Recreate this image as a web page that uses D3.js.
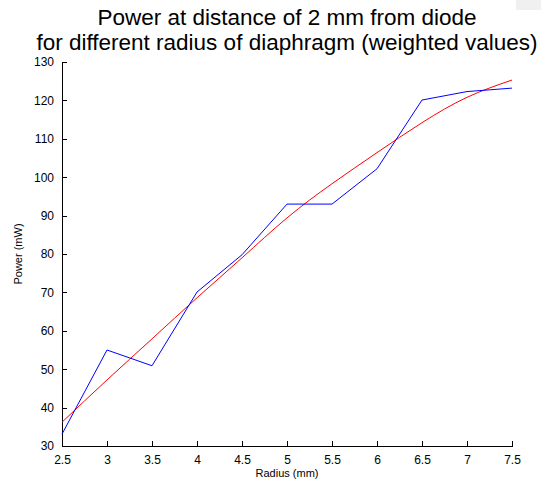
<!DOCTYPE html>
<html lang="en">
<head>
<meta charset="UTF-8">
<title>Power vs radius</title>
<script src="https://d3js.org/d3.v7.min.js"></script>
<style>
    body { margin: 0; background: #fff; }
    svg { font-family: "Liberation Sans", Arial, sans-serif; }
    .axis path, .axis line { stroke: #000; shape-rendering: crispEdges; }
    .axis text { font-size: 12px; fill: #000; }
</style>
</head>
<body>
<div id="chart"></div>
<script>
    // measured values (blue) and fitted curve (red)
    var radius = [2.5, 3, 3.5, 4, 4.5, 5, 5.5, 6, 6.5, 7, 7.5];
    var measured = [33.1, 55, 50.9, 70.1, 79.8, 93, 93, 102.2, 120.1, 122.3, 123.2];
    var fitted = [36.2, 47.2, 57.9, 68.6, 79, 89.4, 98.3, 106.4, 114.2, 120.8, 125.3];
    var xTicks = [2.5, 3, 3.5, 4, 4.5, 5, 5.5, 6, 6.5, 7, 7.5];
    var yTicks = [30, 40, 50, 60, 70, 80, 90, 100, 110, 120, 130];

    var W = 541, H = 486;
    var margin = {top: 62, right: 29, bottom: 40, left: 62};

    var svg = d3.select("#chart").append("svg")
        .attr("width", W)
        .attr("height", H);

    // small gray patch in the top right corner
    svg.append("rect").attr("x", 516).attr("y", 0).attr("width", 25).attr("height", 10).attr("fill", "#f0f0f0");

    var x = d3.scaleLinear().domain([2.5, 7.5]).range([margin.left, W - margin.right]);
    var y = d3.scaleLinear().domain([30, 130]).range([H - margin.bottom, margin.top]);

    svg.append("g")
        .attr("class", "axis")
        .attr("transform", "translate(0," + (H - margin.bottom) + ")")
        .call(d3.axisBottom(x).tickValues(xTicks).tickSize(-5).tickSizeOuter(0).tickPadding(9)
            .tickFormat(function(d){ return d; }));

    svg.append("g")
        .attr("class", "axis")
        .attr("transform", "translate(" + margin.left + ",0)")
        .call(d3.axisLeft(y).tickValues(yTicks).tickSize(-5).tickSizeOuter(0).tickPadding(8));

    var line = d3.line().x(function(d){ return x(d[0]); }).y(function(d){ return y(d[1]); });

    svg.append("path")
        .datum(radius.map(function(r, i){ return [r, fitted[i]]; }))
        .attr("fill", "none")
        .attr("stroke", "#ff0000")
        .attr("stroke-width", 1)
        .attr("d", line.curve(d3.curveNatural));

    svg.append("path")
        .datum(radius.map(function(r, i){ return [r, measured[i]]; }))
        .attr("fill", "none")
        .attr("stroke", "#0000ff")
        .attr("stroke-width", 1)
        .attr("d", line.curve(d3.curveLinear));

    // title
    var cx = (margin.left + W - margin.right) / 2;
    svg.append("text").attr("x", cx).attr("y", 25).attr("text-anchor", "middle")
        .attr("font-size", 22.5).text("Power at distance of 2 mm from diode");
    svg.append("text").attr("x", cx).attr("y", 50).attr("text-anchor", "middle")
        .attr("font-size", 22.5).text("for different radius of diaphragm (weighted values)");

    // axis labels
    svg.append("text").attr("x", cx).attr("y", 477).attr("text-anchor", "middle")
        .attr("font-size", 11).text("Radius (mm)");
    svg.append("text").attr("transform", "translate(22," + ((margin.top + H - margin.bottom) / 2) + ") rotate(-90)")
        .attr("text-anchor", "middle").attr("font-size", 11).text("Power (mW)");
</script>
</body>
</html>
